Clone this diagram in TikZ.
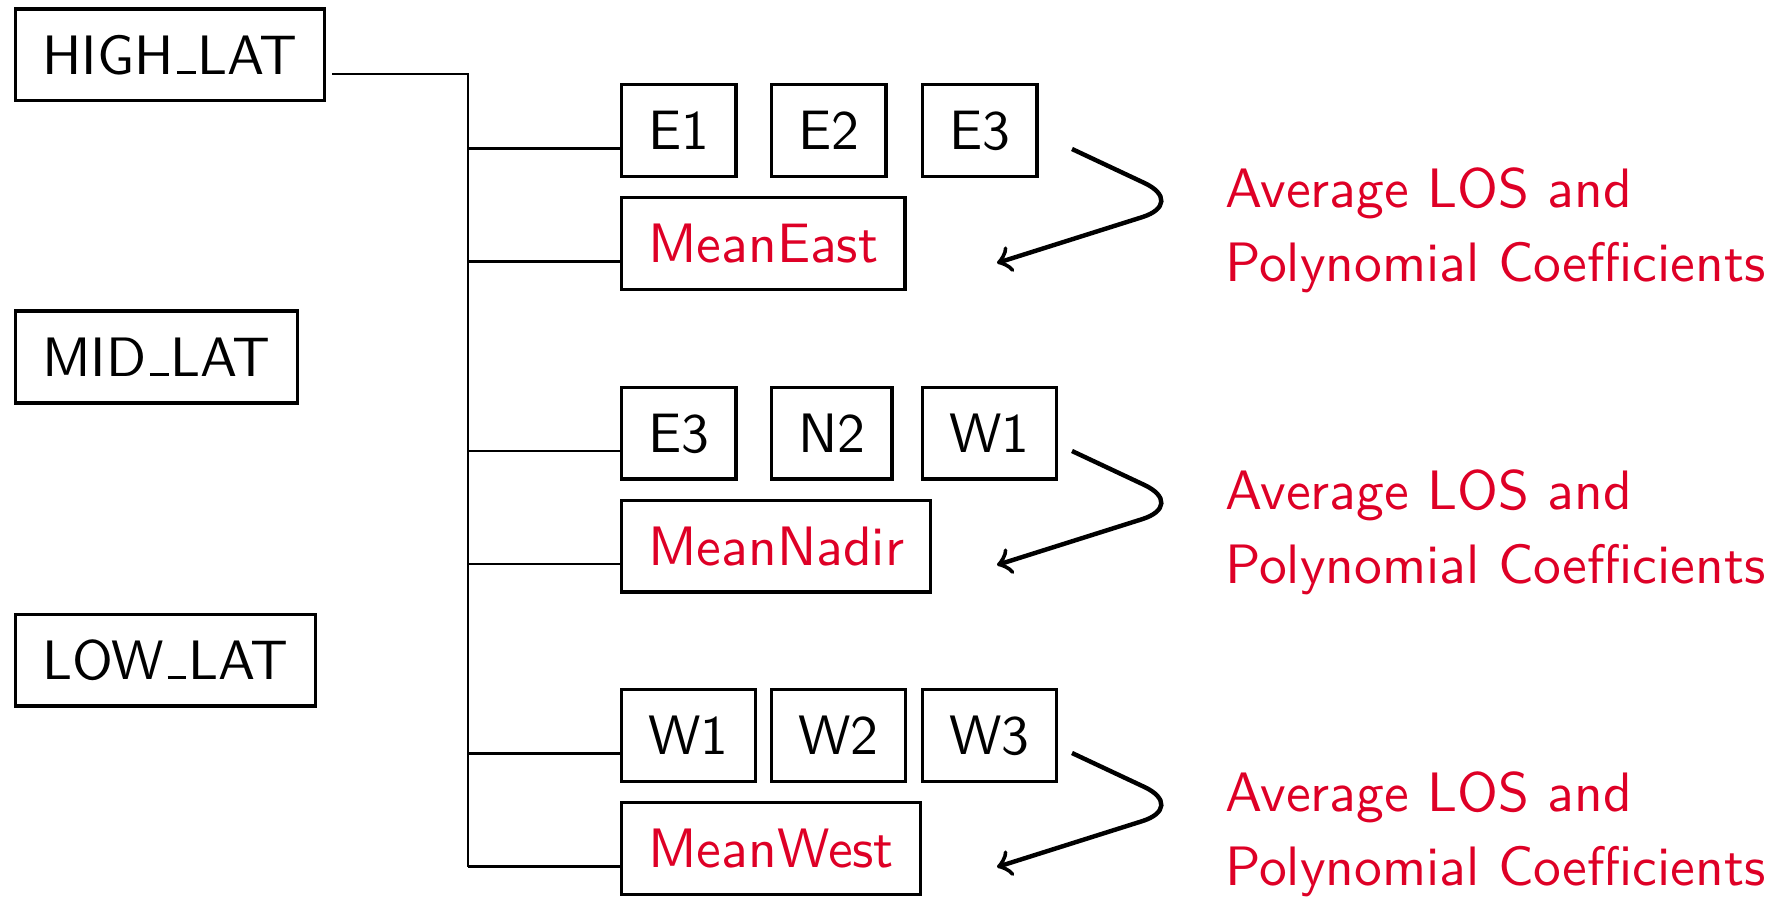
\documentclass[tikz,border=0pt]{standalone}
\usetikzlibrary{calc}
\definecolor{alertred}{RGB}{222,0,38}
% thin baseline underscore, as in the classic \_ of LaTeX
\newcommand\lowbar{\kern.06em\rule{.34em}{.055em}\kern.03em}
\begin{document}
\begin{tikzpicture}[x=0.18pt,y=-0.18pt,
  every node/.style={font=\sffamily\fontsize{10}{12}\selectfont},
  box/.style={draw, line width=0.6pt, inner xsep=4.8pt, inner ysep=0pt,
    minimum height=16.5pt, text height=6.94pt, text depth=0pt, anchor=west},
  meanbox/.style={box, text=alertred},
  link/.style={line width=0.5pt},
  flow/.style={line width=0.8pt, ->, rounded corners=8.5pt},
  note/.style={anchor=north west, inner sep=0pt, align=left, text=alertred,
    font=\sffamily\fontsize{10}{13.2}\selectfont}]
\useasboundingbox (0,0) rectangle (1776,896);

% latitude bands
\node[box] (high) at (14,55)  {HIGH\lowbar LAT};
\node[box] (mid)  at (14,357) {MID\lowbar LAT};
\node[box] (low)  at (14,660) {LOW\lowbar LAT};

% east looking scenes
\node[box] (e1) at (620,130.5) {E1};
\node[box] (e2) at (770,130.5) {E2};
\node[box] (e3) at (921,130.5) {E3};
\node[meanbox] (meaneast) at (620,243.5) {MeanEast};

% nadir looking scenes
\node[box] (ne3) at (620,433) {E3};
\node[box] (nn2) at (770,433) {N2};
\node[box] (nw1) at (921,433) {W1};
\node[meanbox] (meannadir) at (620,546) {MeanNadir};

% west looking scenes
\node[box] (w1) at (620,735.5) {W1};
\node[box] (w2) at (770,735.5) {W2};
\node[box] (w3) at (921,735.5) {W3};
\node[meanbox] (meanwest) at (620,848.5) {MeanWest};

% tree connectors
\coordinate (hstart) at ($(high.east)+(6,19)$);
\coordinate (trunk) at (468,74);
\coordinate (b1) at ($(e1.west)+(0,18)$);
\coordinate (b2) at ($(meaneast.west)+(0,18)$);
\coordinate (b3) at ($(ne3.west)+(0,18)$);
\coordinate (b4) at ($(meannadir.west)+(0,18)$);
\coordinate (b5) at ($(w1.west)+(0,18)$);
\coordinate (b6) at ($(meanwest.west)+(0,18)$);
\draw[link] (hstart) -- (hstart -| trunk) -- (b6 -| trunk);
\foreach \b in {b1,b2,b3,b4,b5,b6}
  \draw[link] (\b -| trunk) -- (\b);

% averaging arrows and notes
\foreach \g/\dy in {1/0,2/302,3/604}{
  \coordinate (s\g) at (1072,149+\dy);
  \coordinate (c\g) at (1187,203+\dy);
  \coordinate (t\g) at (997,263+\dy);
  \draw[flow] (s\g) -- (c\g) -- (t\g);
  \node[note] (note\g) at (1224,167+\dy) {Average LOS and\\Polynomial Coefficients};
}
\end{tikzpicture}
\end{document}
